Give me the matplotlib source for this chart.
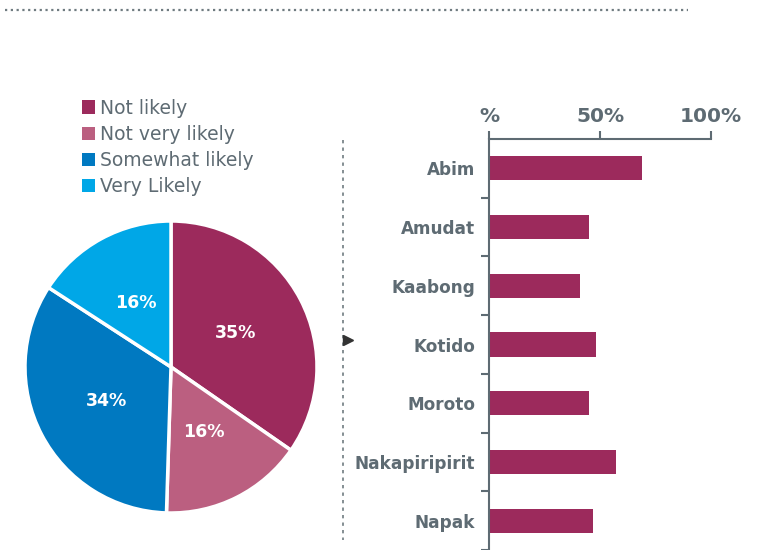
import matplotlib.pyplot as plt
from matplotlib.patches import Patch
from matplotlib.lines import Line2D

# pie data
PIE_LABELS = ['Not likely', 'Not very likely', 'Somewhat likely', 'Very Likely']
PIE_VALUES = [35, 16, 34, 16]
PIE_COLORS = ['#9c2a5c', '#bb5f80', '#0079c1', '#00a7e7']

# bar data
DISTRICTS = ['Abim', 'Amudat', 'Kaabong', 'Kotido', 'Moroto', 'Nakapiripirit', 'Napak']
DISTRICT_VALUES = [69, 45, 41, 48, 45, 57, 47]
X_TICKS = [0, 50, 100]
X_TICK_LABELS = ['%', '50%', '100%']

GREY = '#5e6b73'
BAR_COLOR = '#9c2a5c'


def main():
    plt.rcParams['font.family'] = 'DejaVu Sans'
    fig = plt.figure(figsize=(7.63, 5.5), dpi=100)

    # dotted rule on top
    fig.add_artist(Line2D([5 / 763, 688 / 763], [1 - 10 / 550, 1 - 10 / 550],
                          color='#6f7b80', lw=1.6, ls=(0, (1, 1.6))))
    # dotted vertical separator
    fig.add_artist(Line2D([343 / 763, 343 / 763], [1 - 140 / 550, 1 - 540 / 550],
                          color='#6f7b80', lw=1.2, ls=(0, (2, 2.5))))
    fig.add_artist(Line2D([348 / 763], [1 - 340 / 550], marker='>', color='#333333',
                          markersize=7, lw=0))

    # pie
    ax_pie = fig.add_axes([25 / 763, 37 / 550, 292 / 763, 292 / 550])
    vals = iter(PIE_VALUES)
    wedges, _, autotexts = ax_pie.pie(
        PIE_VALUES, colors=PIE_COLORS, startangle=90, counterclock=False,
        autopct=lambda p: f'{next(vals)}%', pctdistance=0.5,
        wedgeprops=dict(edgecolor='white', linewidth=2.5))
    for t in autotexts:
        t.set_color('white')
        t.set_fontweight('bold')
        t.set_fontsize(12.5)
    ax_pie.set_xlim(-1, 1)
    ax_pie.set_ylim(-1, 1)
    ax_pie.set_aspect('equal')

    handles = [Patch(facecolor=c, edgecolor='none') for c in PIE_COLORS]
    leg = fig.legend(handles, PIE_LABELS, loc='upper left',
                     bbox_to_anchor=(74 / 763, 1 - 91 / 550), frameon=False,
                     fontsize=13.5, handlelength=0.7, handleheight=0.7,
                     handletextpad=0.3, labelspacing=0.38, borderaxespad=0)
    for t in leg.get_texts():
        t.set_color(GREY)

    # bars
    ax = fig.add_axes([489 / 763, 0, 222 / 763, 411 / 550])
    n = len(DISTRICTS)
    ypos = list(range(n))
    ax.barh(ypos, DISTRICT_VALUES, height=0.41, color=BAR_COLOR)
    ax.set_ylim(n - 0.5, -0.5)
    ax.set_xlim(0, 100)
    ax.xaxis.tick_top()
    ax.set_xticks(X_TICKS)
    ax.set_xticklabels(X_TICK_LABELS, fontsize=14.5, fontweight='bold', color=GREY)
    ax.tick_params(axis='x', colors=GREY, length=6, width=1.5, pad=3, labelcolor=GREY)
    ax.set_yticks([i + 0.5 for i in range(n - 1)] + [n - 0.5])
    ax.set_yticklabels([])
    ax.set_yticks(ypos, minor=True)
    ax.set_yticklabels(DISTRICTS, minor=True, fontsize=12.2, fontweight='bold', color=GREY)
    ax.tick_params(axis='y', which='major', colors=GREY, length=6, width=1.5)
    ax.tick_params(axis='y', which='minor', length=0, pad=10, labelcolor=GREY)
    for side in ['right', 'bottom']:
        ax.spines[side].set_visible(False)
    for side in ['top', 'left']:
        ax.spines[side].set_color(GREY)
        ax.spines[side].set_linewidth(1.5)

    fig.savefig('out.png', dpi=100)


if __name__ == "__main__":
    main()
